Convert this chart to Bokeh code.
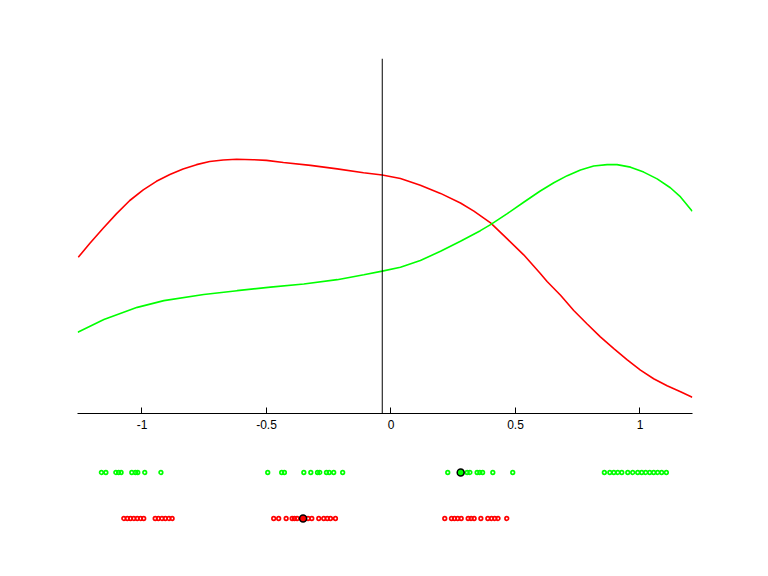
from bokeh.plotting import figure
from bokeh.layouts import column
from bokeh.models import Range1d, Span, FixedTicker
from bokeh.embed import file_html
from bokeh.resources import INLINE

# ---- data ----
red_x = [-1.256, -1.210, -1.156, -1.102, -1.049, -0.995, -0.942, -0.888, -0.835, -0.781,
         -0.728, -0.674, -0.620, -0.553, -0.500, -0.432, -0.323, -0.216, -0.110, -0.035,
         0.038, 0.118, 0.199, 0.279, 0.333, 0.400, 0.467, 0.533, 0.598, 0.627,
         0.681, 0.734, 0.788, 0.841, 0.895, 0.949, 1.002, 1.055, 1.109, 1.163, 1.210]
red_y = [0.440, 0.479, 0.522, 0.563, 0.600, 0.630, 0.654, 0.673, 0.689, 0.701,
         0.710, 0.714, 0.716, 0.715, 0.713, 0.707, 0.699, 0.689, 0.678, 0.672,
         0.662, 0.643, 0.620, 0.593, 0.570, 0.537, 0.492, 0.447, 0.396, 0.372,
         0.333, 0.290, 0.252, 0.216, 0.183, 0.151, 0.122, 0.098, 0.078, 0.061, 0.046]
green_x = [-1.258, -1.153, -1.019, -0.912, -0.752, -0.618, -0.484, -0.350, -0.216, -0.109,
           -0.035, 0.038, 0.118, 0.199, 0.279, 0.359, 0.400, 0.467, 0.533, 0.598,
           0.654, 0.708, 0.761, 0.814, 0.868, 0.908, 0.962, 1.015, 1.069, 1.122,
           1.163, 1.210]
green_y = [0.229, 0.265, 0.299, 0.318, 0.335, 0.346, 0.356, 0.365, 0.377, 0.391,
           0.401, 0.412, 0.431, 0.457, 0.485, 0.515, 0.532, 0.563, 0.595, 0.626,
           0.650, 0.670, 0.686, 0.697, 0.701, 0.701, 0.694, 0.680, 0.661, 0.636,
           0.610, 0.570]

green_pts = [-1.163, -1.145, -1.105, -1.094, -1.084, -1.041, -1.026, -1.017, -0.989, -0.924,
             -0.495, -0.439, -0.428, -0.350, -0.322, -0.295, -0.286, -0.259, -0.248, -0.230, -0.194,
             0.228, 0.306, 0.317, 0.346, 0.357, 0.368, 0.409, 0.489,
             0.857, 0.879, 0.895, 0.911, 0.927, 0.951, 0.971, 0.991, 1.007, 1.023, 1.039,
             1.055, 1.071, 1.087, 1.106]
red_pts = [-1.073, -1.059, -1.046, -1.033, -1.019, -1.006, -0.993,
           -0.947, -0.934, -0.920, -0.906, -0.892, -0.879,
           -0.471, -0.451, -0.421, -0.397, -0.388, -0.377, -0.333, -0.318, -0.290,
           -0.270, -0.256, -0.243, -0.223,
           0.216, 0.243, 0.255, 0.268, 0.282, 0.310, 0.322, 0.334, 0.361, 0.389,
           0.404, 0.417, 0.430, 0.465]
green_highlight = [0.280]
red_highlight = [-0.353]
vline_x = -0.035

tick_values = [-1, -0.5, 0, 0.5, 1]
tick_labels = ["-1", "-0.5", "0", "0.5", "1"]

RED = "#ff0000"
GREEN = "#00ff00"

x_range = Range1d(-1.259, 1.211)

p = figure(width=760, height=443, x_range=x_range, y_range=Range1d(0, 1),
           output_backend="svg", toolbar_location=None,
           min_border_left=77, min_border_right=68, min_border_top=58, min_border_bottom=30)
p.yaxis.visible = False
p.xgrid.visible = False
p.ygrid.visible = False
p.outline_line_color = None
p.background_fill_color = "white"
p.border_fill_color = "white"

p.line(red_x, red_y, line_color=RED, line_width=1.6)
p.line(green_x, green_y, line_color=GREEN, line_width=1.6)
p.add_layout(Span(location=vline_x, dimension="height", line_color="black", line_width=1))

ax = p.xaxis[0]
ax.ticker = FixedTicker(ticks=tick_values)
ax.major_label_overrides = {v: l for v, l in zip(tick_values, tick_labels)}
ax.major_tick_in = 6
ax.major_tick_out = 0
ax.minor_tick_line_color = None
ax.axis_line_color = "black"
ax.major_tick_line_color = "black"
ax.major_label_text_font = "Liberation Sans"
ax.major_label_text_font_size = "12px"
ax.major_label_text_color = "black"
ax.major_label_standoff = 6

# dot rows
p2 = figure(width=760, height=100, x_range=x_range, y_range=Range1d(0.4565, 2.63),
            output_backend="svg", toolbar_location=None,
            min_border_left=77, min_border_right=68, min_border_top=0, min_border_bottom=0)
p2.axis.visible = False
p2.xgrid.visible = False
p2.ygrid.visible = False
p2.outline_line_color = None

p2.scatter(green_pts, [2] * len(green_pts), size=3.6, line_color=GREEN, line_width=1.7, fill_alpha=0)
p2.scatter(red_pts, [1] * len(red_pts), size=3.6, line_color=RED, line_width=1.7, fill_alpha=0)
p2.scatter(green_highlight, [2], size=7, line_color="black", line_width=1.5, fill_color=GREEN)
p2.scatter(red_highlight, [1], size=7, line_color="black", line_width=1.5, fill_color=RED)

layout = column(p, p2, spacing=0)
open("out.html", "w").write(file_html(layout, INLINE))
